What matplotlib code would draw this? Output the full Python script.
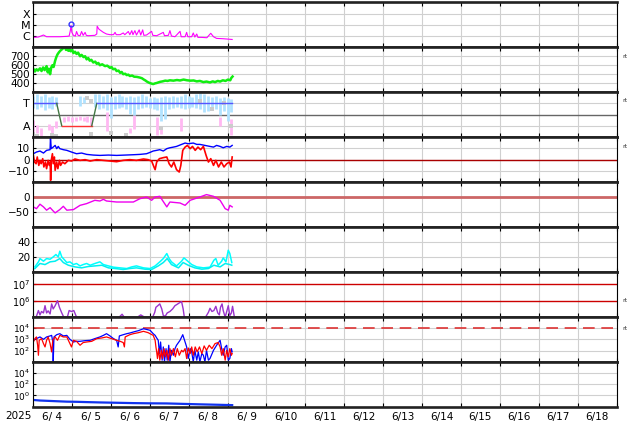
import numpy as np
import matplotlib
matplotlib.use('Agg')
import matplotlib.pyplot as plt
from matplotlib.ticker import NullLocator

# time is in days from 2025-06-04 00:00 UT
days = [4, 5, 6, 7, 8, 9, 10, 11, 12, 13, 14, 15, 16, 17, 18]

# X-ray flux
xray_t = [.01, .14, .27, .35, .52, .69, .87, .93, .96, .98, 1.00, 1.04, 1.09, 1.12, 1.16, 1.21, 1.25, 1.29,
          1.34, 1.37, 1.42, 1.59, 1.64, 1.65, 1.69, 1.72, 1.81, 1.89, 1.98, 2.07, 2.11, 2.14, 2.24, 2.32,
          2.36, 2.45, 2.49, 2.54, 2.57, 2.62, 2.66, 2.73, 2.77, 2.82, 2.85, 2.92, 3.05, 3.08, 3.18, 3.35,
          3.38, 3.48, 3.52, 3.56, 3.65, 3.78, 3.81, 3.91, 3.95, 3.98, 4.08, 4.12, 4.16, 4.21, 4.24, 4.34,
          4.47, 4.53, 4.57, 4.64, 4.72, 4.89, 5.12]
xray_f = [7.5e-7, 8.1e-7, 1.22e-6, 8.6e-7, 8.6e-7, 8.6e-7, 9.3e-7, 9.9e-7, 3.0e-6, 8.6e-6, 2.1e-6, 1.14e-6,
          9.9e-7, 2.5e-6, 1.14e-6, 1.06e-6, 2.5e-6, 1.14e-6, 2.1e-6, 1.14e-6, 1.06e-6, 1.14e-6, 1.5e-6,
          7.5e-6, 4.3e-6, 3.5e-6, 2.1e-6, 1.5e-6, 1.31e-6, 1.31e-6, 2.1e-6, 1.31e-6, 1.31e-6, 1.86e-6,
          1.31e-6, 2.5e-6, 1.31e-6, 3.0e-6, 1.31e-6, 3.0e-6, 1.22e-6, 3.5e-6, 1.22e-6, 3.5e-6, 1.14e-6,
          1.22e-6, 2.6e-6, 1.14e-6, 1.06e-6, 2.1e-6, 1.06e-6, 1.14e-6, 3.0e-6, 9.9e-7, 8.6e-7, 2.6e-6,
          8.6e-7, 8.6e-7, 2.1e-6, 8.6e-7, 8.6e-7, 1.86e-6, 8.1e-7, 1.5e-6, 7.5e-7, 7.5e-7, 7.0e-7,
          1.22e-6, 1.74e-6, 8.6e-7, 6.1e-7, 5.7e-7, 4.9e-7]
flare_t = [0.98]
flare_f = [1.25e-5]

# solar wind speed
vsw_t = [0.01, 0.05, 0.09, 0.13, 0.18, 0.22, 0.26, 0.30, 0.35, 0.38, 0.41, 0.44, 0.47, 0.50, 0.53, 0.57, 0.60,
         0.63, 0.67, 0.70, 0.74, 0.78, 0.82, 0.85, 0.88, 0.91, 0.94, 0.97, 1.01, 1.04, 1.08, 1.12, 1.16, 1.21,
         1.25, 1.30, 1.34, 1.38, 1.42, 1.46, 1.50, 1.55, 1.60, 1.64, 1.68, 1.72, 1.78, 1.85, 1.91, 1.98, 2.02,
         2.06, 2.11, 2.15, 2.20, 2.24, 2.28, 2.32, 2.37, 2.41, 2.45, 2.49, 2.55, 2.60, 2.67, 2.75, 2.80, 2.85,
         2.89, 2.92, 2.96, 3.00, 3.05, 3.09, 3.14, 3.18, 3.22, 3.27, 3.33, 3.40, 3.46, 3.52, 3.61, 3.70, 3.78,
         3.87, 3.96, 4.05, 4.13, 4.21, 4.29, 4.38, 4.46, 4.55, 4.62, 4.68, 4.75, 4.81, 4.88, 4.95, 5.01, 5.07,
         5.10, 5.13]
vsw = [560, 530, 555, 540, 565, 535, 575, 545, 590, 520, 560, 500, 575, 600, 580, 650, 690, 720, 745, 760, 775,
       790, 800, 770, 790, 760, 780, 755, 770, 735, 750, 725, 740, 700, 715, 690, 700, 665, 680, 650, 660, 630,
       640, 615, 625, 600, 610, 590, 595, 570, 580, 555, 560, 535, 540, 515, 525, 500, 505, 490, 495, 480, 485,
       472, 470, 462, 455, 440, 430, 420, 410, 402, 395, 390, 398, 402, 408, 415, 420, 428, 425, 432, 428, 435,
       430, 440, 432, 428, 430, 420, 425, 412, 418, 408, 420, 412, 425, 418, 432, 425, 440, 432, 460, 474]

# IMF sector (T = +1, A = -1)
sector_t = [0, 0.61, 0.74, 1.51, 1.64, 5.12]
sector_v = [1, 1, -1, -1, 1, 1]
bin_t = [0.0, 0.1, 0.2, 0.3, 0.4, 0.5, 0.6, 0.7, 0.8, 0.9, 1.0, 1.1, 1.2, 1.3, 1.4, 1.5, 1.6, 1.7, 1.8, 1.9,
         2.0, 2.1, 2.2, 2.3, 2.4, 2.5, 2.6, 2.7, 2.8, 2.9, 3.0, 3.1, 3.2, 3.3, 3.4, 3.5, 3.6, 3.7, 3.8, 3.9,
         4.0, 4.1, 4.2, 4.3, 4.4, 4.5, 4.6, 4.7, 4.8, 4.9, 5.0, 5.1]
nan = np.nan
toward_lo = [.6, .5, .7, .4, .6, .5, .8, nan, nan, nan, nan, nan, .8, 1.0, nan, nan, .7, .5, .6, .4,
             -.3, .5, .6, .7, .5, .1, .0, .5, .6, .7, .6, .5, .4, -.6, -.4, .5, .6, .7, .6, .5,
             .6, .7, .6, .5, .2, .3, .6, .5, .0, .3, -.6, .2]
toward_hi = [1.7, 1.8, 1.7, 1.8, 1.6, 1.7, 1.6, nan, nan, nan, nan, nan, 1.7, 1.6, nan, nan, 1.8, 1.8, 1.7, 1.8,
             1.6, 1.7, 1.8, 1.7, 1.6, 1.7, 1.6, 1.7, 1.8, 1.7, 1.5, 1.6, 1.5, 1.6, 1.7, 1.6, 1.7, 1.6, 1.7, 1.8,
             1.7, 1.6, 1.8, 1.9, 1.8, 1.7, 1.6, 1.7, 1.5, 1.6, 1.5, 1.4]
away_lo = [-1.9, -1.6, -1.9, nan, -1.4, -1.8, -1.2, nan, -.7, -.6, -.7, -.6, -.5, -.6, -.7, -1.0, nan, nan, nan, -1.5,
           nan, nan, nan, nan, nan, -1.6, -1.3, nan, nan, nan, nan, nan, -1.8, -1.7, nan, nan, nan, nan, -1.5, nan,
           nan, nan, nan, nan, nan, nan, nan, nan, -1.0, nan, nan, -1.8]
away_hi = [-.5, -.9, -1.2, nan, -.8, -1.0, -.6, nan, -.2, -.1, -.2, -.2, -.1, -.2, -.1, -.2, nan, nan, nan, .2,
           nan, nan, nan, nan, nan, -1.2, .0, nan, nan, nan, nan, nan, -.2, -1.2, nan, nan, nan, nan, -.3, nan,
           nan, nan, nan, nan, nan, nan, nan, nan, -.2, nan, nan, -.4]
gray_t = [0.0, 0.1, 0.5, 0.6, 1.4, 1.5, 1.5, 2.0, 2.4, 3.3, 4.3, 4.6, 4.9, 5.1]
gray_v = [-1.7, -1.9, -1.8, -1.9, 1.5, 1.2, -1.7, -1.6, -1.8, -1.2, 1.2, 0.5, 1.0, -1.0]

# IMF Bt / Bz
bt_t = [.01, .09, .18, .27, .35, .44, .45, .47, .52, .57, .61, .65, .69, .78, .87, .99, 1.12, 1.25, 1.38, 1.55,
        1.72, 1.94, 2.15, 2.37, 2.58, 2.75, 2.92, 3.01, 3.09, 3.18, 3.26, 3.35, 3.44, 3.52, 3.61, 3.69, 3.82,
        3.91, 3.99, 4.12, 4.21, 4.29, 4.42, 4.55, 4.64, 4.72, 4.81, 4.89, 4.98, 5.06, 5.12]
bt = [5.2, 6.7, 7.6, 5.8, 8.2, 8.8, 19.3, 9.7, 11.1, 12.6, 9.7, 11.7, 9.7, 8.8, 8.2, 6.7, 5.2, 5.8, 4.6, 4.0,
      3.7, 4.0, 3.7, 4.0, 4.3, 4.6, 5.2, 6.4, 7.6, 8.2, 8.8, 7.6, 9.7, 10.5, 11.1, 11.7, 13.5, 14.7, 14.1, 14.7,
      13.5, 13.5, 12.6, 11.7, 11.1, 12.6, 11.7, 10.5, 11.7, 11.1, 12.6]
bz_t = [.01, .04, .08, .11, .15, .18, .21, .25, .28, .32, .35, .39, .42, .443, .454, .47, .50, .52, .55, .57,
        .61, .64, .68, .71, .76, .82, .91, .99, 1.08, 1.21, 1.34, 1.47, 1.64, 1.81, 1.98, 2.15, 2.32, 2.49,
        2.66, 2.84, 2.96, 3.05, 3.11, 3.14, 3.18, 3.25, 3.35, 3.44, 3.50, 3.56, 3.62, 3.69, 3.76, 3.80, 3.85,
        3.91, 3.97, 4.04, 4.10, 4.17, 4.24, 4.31, 4.38, 4.45, 4.51, 4.57, 4.64, 4.70, 4.77, 4.84, 4.91, 4.98,
        5.05, 5.09, 5.12]
bz = [3.7, -2.2, -3.7, 2.3, -5.2, -0.7, -3.7, 0.8, -6.6, -2.2, -8.1, -0.7, -5.2, -2.2, -18.5, -0.7, 5.2, -3.7,
      2.3, -9.6, -2.2, -8.1, -0.7, -5.2, -2.2, -3.7, -0.7, -1.3, 0.5, -0.7, -0.1, -1.3, -0.1, -0.7, -1.3, -1.9,
      -0.7, -0.1, -0.7, 0.5, -0.1, -1.3, -6.6, -9.0, -2.2, 0.8, 1.7, 2.3, -3.7, -6.6, -2.2, -9.0, -11.1, -5.2,
      8.2, 11.1, 12.6, 9.7, 11.7, 8.2, 11.1, 8.8, 11.7, 3.7, -2.2, 0.8, -5.2, -0.7, -6.6, -2.2, -6.6, -3.7,
      -2.2, -6.6, 2.3]

# Dst
dst_t = [.01, .09, .18, .27, .35, .44, .52, .57, .69, .78, .87, 1.04, 1.21, 1.38, 1.59, 1.72, 1.81, 1.89, 2.15,
         2.58, 2.75, 2.92, 3.05, 3.14, 3.26, 3.44, 3.52, 3.78, 3.91, 4.04, 4.29, 4.46, 4.64, 4.81, 4.94, 5.02,
         5.06, 5.12]
dst = [-33, -38.9, -24, -33, -44, -35.5, -46.7, -53, -42, -31, -44, -42, -27.8, -22, -11, -13.3, -7.8, -13.3,
       -16.7, -16.7, -5.6, 0, -11, 0, 2.3, -33, -16.7, -20, -27.8, -11, 0, 8, 2.3, -11, -38.9, -44, -27.8, -33]

# density (two traces)
np_a_t = [.05, .14, .18, .27, .35, .44, .52, .59, .65, .69, .74, .78, .87, .95, 1.04, 1.12, 1.21, 1.29, 1.38,
          1.47, 1.59, 1.72, 1.81, 1.94, 2.07, 2.24, 2.41, 2.54, 2.66, 2.84, 3.01, 3.14, 3.26, 3.35, 3.44, 3.50,
          3.56, 3.69, 3.82, 3.88, 3.95, 4.08, 4.21, 4.38, 4.55, 4.65, 4.70, 4.76, 4.85, 4.89, 4.96, 5.02, 5.06,
          5.11]
np_a = [6.7, 13.4, 17.8, 14.3, 17.8, 16.9, 20.0, 23.2, 20.0, 27.6, 20.0, 17.8, 12.5, 13.4, 9.8, 11.2, 8.0, 9.8,
        11.2, 8.9, 11.2, 13.4, 9.8, 8.0, 6.3, 5.4, 4.5, 6.7, 8.0, 5.4, 4.5, 8.0, 13.4, 17.8, 24.5, 17.8, 13.4, 8.0,
        14.3, 18.7, 15.6, 9.8, 6.7, 5.4, 6.3, 15.6, 17.8, 8.9, 14.3, 18.7, 13.4, 28.9, 24.5, 12.5]
np_b_t = [.05, .18, .31, .44, .57, .69, .78, .91, 1.08, 1.25, 1.42, 1.59, 1.77, 1.94, 2.11, 2.32, 2.49, 2.66,
          2.88, 3.05, 3.22, 3.35, 3.45, 3.56, 3.74, 3.86, 3.99, 4.16, 4.34, 4.51, 4.65, 4.81, 4.94, 5.06, 5.11]
np_b = [4.5, 11.2, 9.8, 13.4, 14.3, 17.8, 12.5, 8.9, 6.7, 5.4, 7.2, 8.0, 8.9, 5.4, 4.5, 3.2, 4.5, 5.4, 3.6, 3.2,
        8.0, 12.5, 17.8, 9.8, 5.4, 12.5, 8.9, 5.4, 3.6, 4.5, 8.9, 6.7, 11.2, 9.8, 8.9]

# electron flux (log10)
ele_t = [.09, .14, .18, .22, .27, .31, .35, .39, .44, .48, .52, .57, .63, .68, .74, .78, .83, .88, .93, .99,
         1.05, 1.12, 1.5, 2.24, 2.29, 2.34, 2.5, 2.71, 2.77, 2.84, 2.95, 3.08, 3.13, 3.16, 3.21, 3.26, 3.31, 3.35,
         3.40, 3.45, 3.52, 3.59, 3.65, 3.71, 3.76, 3.82, 3.86, 3.89, 4.2, 4.45, 4.51, 4.55, 4.60, 4.65, 4.70,
         4.75, 4.79, 4.82, 4.86, 4.89, 4.94, 4.98, 5.02, 5.06, 5.10, 5.13, 5.17]
ele_log = [5.04, 5.39, 5.12, 5.33, 5.24, 5.69, 5.24, 5.37, 5.18, 5.80, 5.49, 5.69, 6.00, 5.59, 5.24, 5.04, nan,
           4.95, 5.39, 5.33, 5.39, 4.98, nan, 5.04, 5.16, 5.00, nan, 5.02, 5.12, 5.02, nan, 5.00, 5.28, 5.59,
           5.69, 5.80, 5.49, 5.08, 5.04, 5.24, 5.33, 5.49, 5.69, 5.78, 5.86, 5.94, 5.49, 4.98, nan, 5.04, 5.28,
           5.53, 5.33, 5.39, 5.65, 5.24, 5.12, 5.59, 5.80, 5.39, 4.98, 5.33, 5.69, 5.08, 5.24, 5.65, 5.08]

# proton / electron counts (log10)
p1_t = [.01, .09, .18, .27, .35, .44, .48, .51, .52, .54, .61, .69, .78, .87, .95, 1.04, 1.12, 1.21, 1.34, 1.47,
        1.59, 1.72, 1.81, 1.89, 1.98, 2.07, 2.15, 2.19, 2.22, 2.32, 2.41, 2.49, 2.58, 2.71, 2.84, 2.92, 3.01,
        3.09, 3.14, 3.18, 3.22, 3.25, 3.28, 3.32, 3.35, 3.38, 3.42, 3.45, 3.49, 3.52, 3.56, 3.61, 3.65, 3.69,
        3.78, 3.85, 3.91, 3.95, 3.99, 4.04, 4.08, 4.12, 4.16, 4.21, 4.25, 4.29, 4.34, 4.38, 4.42, 4.46, 4.51,
        4.55, 4.64, 4.72, 4.81, 4.85, 4.89, 4.94, 4.98, 5.02, 5.06, 5.10, 5.12]
p1_log = [2.91, 3.06, 3.21, 3.00, 3.21, 3.30, 3.35, 2.76, 1.00, 3.21, 3.41, 3.50, 3.30, 3.35, 3.00, 2.76, 2.82,
          2.82, 2.88, 2.91, 3.06, 3.21, 3.35, 3.50, 3.30, 3.06, 2.91, 2.32, 3.30, 3.41, 3.50, 3.56, 3.65, 3.77,
          3.94, 3.88, 3.80, 3.50, 3.35, 3.12, 2.91, 1.73, 2.76, 1.14, 2.32, 1.00, 2.17, 1.14, 2.47, 1.00, 2.02,
          1.58, 2.17, 2.47, 2.91, 3.41, 2.76, 2.32, 1.29, 2.17, 1.88, 1.00, 2.02, 1.14, 1.88, 1.00, 1.73, 1.58,
          1.00, 2.02, 1.14, 1.29, 2.02, 2.47, 2.91, 2.17, 1.58, 2.32, 2.47, 1.14, 1.29, 2.17, 1.88]
p2_t = [.01, .05, .09, .12, .14, .16, .22, .27, .31, .35, .39, .44, .48, .51, .57, .63, .69, .78, .87, .93,
        .99, 1.04, 1.12, 1.21, 1.29, 1.38, 1.51, 1.64, 1.77, 1.89, 2.02, 2.15, 2.24, 2.32, 2.35, 2.37, 2.49,
        2.58, 2.71, 2.84, 2.96, 3.09, 3.14, 3.16, 3.18, 3.20, 3.23, 3.26, 3.30, 3.33, 3.37, 3.40, 3.44, 3.48,
        3.52, 3.56, 3.61, 3.66, 3.71, 3.76, 3.82, 3.86, 3.91, 3.95, 3.99, 4.04, 4.08, 4.12, 4.17, 4.22, 4.28,
        4.34, 4.40, 4.46, 4.53, 4.60, 4.68, 4.76, 4.81, 4.85, 4.89, 4.94, 4.98, 5.02, 5.06, 5.10, 5.12]
p2_log = [2.76, 3.06, 3.21, 2.47, 1.58, 2.91, 3.06, 2.62, 2.32, 2.91, 3.21, 2.62, 1.88, 2.91, 3.21, 2.91, 3.35,
          3.21, 3.21, 2.76, 2.32, 2.91, 2.82, 2.47, 2.71, 2.76, 2.82, 3.06, 3.12, 3.21, 3.06, 2.91, 2.82, 2.71,
          2.32, 3.21, 3.41, 3.50, 3.59, 3.71, 3.59, 3.35, 2.91, 2.32, 1.88, 1.29, 2.17, 1.14, 2.02, 1.29, 2.17,
          1.44, 2.02, 1.14, 2.17, 1.58, 2.17, 1.44, 2.17, 1.58, 2.02, 1.88, 2.17, 1.29, 2.23, 1.73, 2.32, 1.58,
          2.32, 1.88, 2.32, 1.73, 2.41, 2.02, 2.47, 2.17, 2.62, 2.71, 2.32, 1.58, 2.17, 1.14, 2.02, 1.44, 2.17,
          1.58, 1.73]

# bottom panel (log10)
low_t = [.01, .18, .35, .52, .69, .87, 1.12, 1.38, 1.72, 2.15, 2.58, 3.01, 3.44, 3.86, 4.29, 4.72, 5.12]
low_log = [-0.80, -0.90, -0.95, -1.0, -1.05, -1.10, -1.13, -1.18, -1.24, -1.30, -1.36, -1.40, -1.42, -1.50,
           -1.58, -1.65, -1.72]

fig, axes = plt.subplots(9, 1, figsize=(6.34, 4.24), dpi=100, sharex=True)
fig.subplots_adjust(left=0.052, right=0.9725, top=0.9946, bottom=0.0408, hspace=0)

grid_c = '#d0d0d0'
for ax in axes:
    ax.set_xlim(0, 15)
    ax.set_xticks(range(16))
    ax.set_xticks([d - 3.5 for d in days], minor=True)
    ax.tick_params(axis='x', which='major', direction='in', length=3, top=True, bottom=True,
                   labelbottom=False)
    ax.tick_params(axis='x', which='minor', length=0, labelsize=7.5, pad=4)
    ax.tick_params(axis='y', which='major', direction='in', length=2, labelsize=7.5, pad=2)
    ax.grid(True, axis='x', which='major', color=grid_c, lw=0.8)
    ax.set_axisbelow(True)
    for s in ('top', 'bottom'):
        ax.spines[s].set_linewidth(1.9)
        ax.spines[s].set_color('#222222')
    for s in ('left', 'right'):
        ax.spines[s].set_linewidth(0.8)


def log_axis(ax, lo, hi, ticks, labels, size=7.5):
    ax.set_yscale('log')
    ax.set_ylim(lo, hi)
    ax.set_yticks(ticks)
    ax.set_yticklabels(labels, fontsize=size)
    ax.yaxis.set_minor_locator(NullLocator())


# 1: X-ray
ax = axes[0]
log_axis(ax, 1e-7, 1e-3, [1e-6, 1e-5, 1e-4], ['C', 'M', 'X'], 8)
ax.grid(True, axis='y', color=grid_c, lw=0.8)
ax.plot(xray_t, xray_f, color='#ff00ff', lw=0.8)
ax.plot(flare_t, flare_f, 'o', mfc='none', mec='#3333ff', ms=3.5, mew=1)

# 2: speed
ax = axes[1]
ax.set_ylim(300, 800)
ax.set_yticks([400, 500, 600, 700])
ax.grid(True, axis='y', color=grid_c, lw=0.8)
ax.plot(vsw_t, vsw, color='#11ee11', lw=1.8)

# 3: sector
ax = axes[2]
ax.set_ylim(-2, 2)
ax.set_yticks([-1, 1])
ax.set_yticklabels(['A', 'T'], fontsize=8)
ax.grid(True, axis='y', color=grid_c, lw=0.8)
ax.axhline(0, color='#666666', lw=1)
ax.vlines(bin_t, away_lo, away_hi, colors='#ffb8f2', lw=2)
ax.vlines(bin_t, toward_lo, toward_hi, colors='#b0e2ff', lw=2)
ax.plot(gray_t, gray_v, 's', color='#cccccc', ms=2.5, mew=0)
for i in range(len(sector_t) - 1):
    a, b = sector_v[i], sector_v[i + 1]
    c = '#5555ff' if a == b == 1 else ('#ff3333' if a == b == -1 else '#447744')
    ax.plot(sector_t[i:i + 2], sector_v[i:i + 2], color=c, lw=1)

# 4: IMF
ax = axes[3]
ax.set_ylim(-20, 20)
ax.set_yticks([-10, 0, 10])
ax.grid(True, axis='y', color=grid_c, lw=0.8)
ax.axhline(0, color='#aa0000', lw=1)
ax.plot(bt_t, bt, color='#0000ff', lw=1)
ax.plot(bz_t, bz, color='#ff0000', lw=1.2)

# 5: Dst
ax = axes[4]
ax.set_ylim(-100, 50)
ax.set_yticks([-50, 0])
ax.grid(True, axis='y', color=grid_c, lw=0.8)
ax.axhline(0, color='#cc6666', lw=2)
ax.plot(dst_t, dst, color='#ee00ee', lw=1)

# 6: density
ax = axes[5]
ax.set_ylim(0, 60)
ax.set_yticks([20, 40])
ax.grid(True, axis='y', color=grid_c, lw=0.8)
ax.plot(np_a_t, np_a, color='#00ffff', lw=1.1)
ax.plot(np_b_t, np_b, color='#00f0f0', lw=1.1)

# 7: electrons
ax = axes[6]
log_axis(ax, 1e5, 6e7, [1e6, 1e7], ['$10^{6}$', '$10^{7}$'], 7)
ax.axhline(1e6, color='#cc0000', lw=1)
ax.axhline(1e7, color='#cc0000', lw=1)
ax.plot(ele_t, 10 ** np.array(ele_log), color='#9933cc', lw=1)

# 8: particles
ax = axes[7]
log_axis(ax, 10, 1e5, [1e2, 1e3, 1e4], ['$10^{2}$', '$10^{3}$', '$10^{4}$'], 6.5)
ax.grid(True, axis='y', color=grid_c, lw=0.8)
ax.axhline(1e4, color='#dd3333', lw=1.2, dashes=(7, 4))
ax.plot(p1_t, 10 ** np.array(p1_log), color='#0000ff', lw=0.9)
ax.plot(p2_t, 10 ** np.array(p2_log), color='#ff0000', lw=0.9)

# 9: bottom
ax = axes[8]
log_axis(ax, 1e-2, 1e6, [1, 1e2, 1e4], ['$10^{0}$', '$10^{2}$', '$10^{4}$'], 6.5)
ax.grid(True, axis='y', color=grid_c, lw=0.8)
ax.plot(low_t, 10 ** np.array(low_log), color='#1133ee', lw=1.6)
ax.set_xticklabels(['6/%2d' % d for d in days], minor=True)
ax.tick_params(axis='x', which='minor', labelbottom=True)

fig.text(18 / 634, 1 - 416 / 424, '2025', ha='center', va='center', fontsize=7.5)
for yp in [57, 101, 146, 300, 328]:
    fig.text(625 / 634, 1 - yp / 424, 'rt', ha='center', va='center', fontsize=4.5, color='#333333')

fig.savefig('out.png', dpi=100)
